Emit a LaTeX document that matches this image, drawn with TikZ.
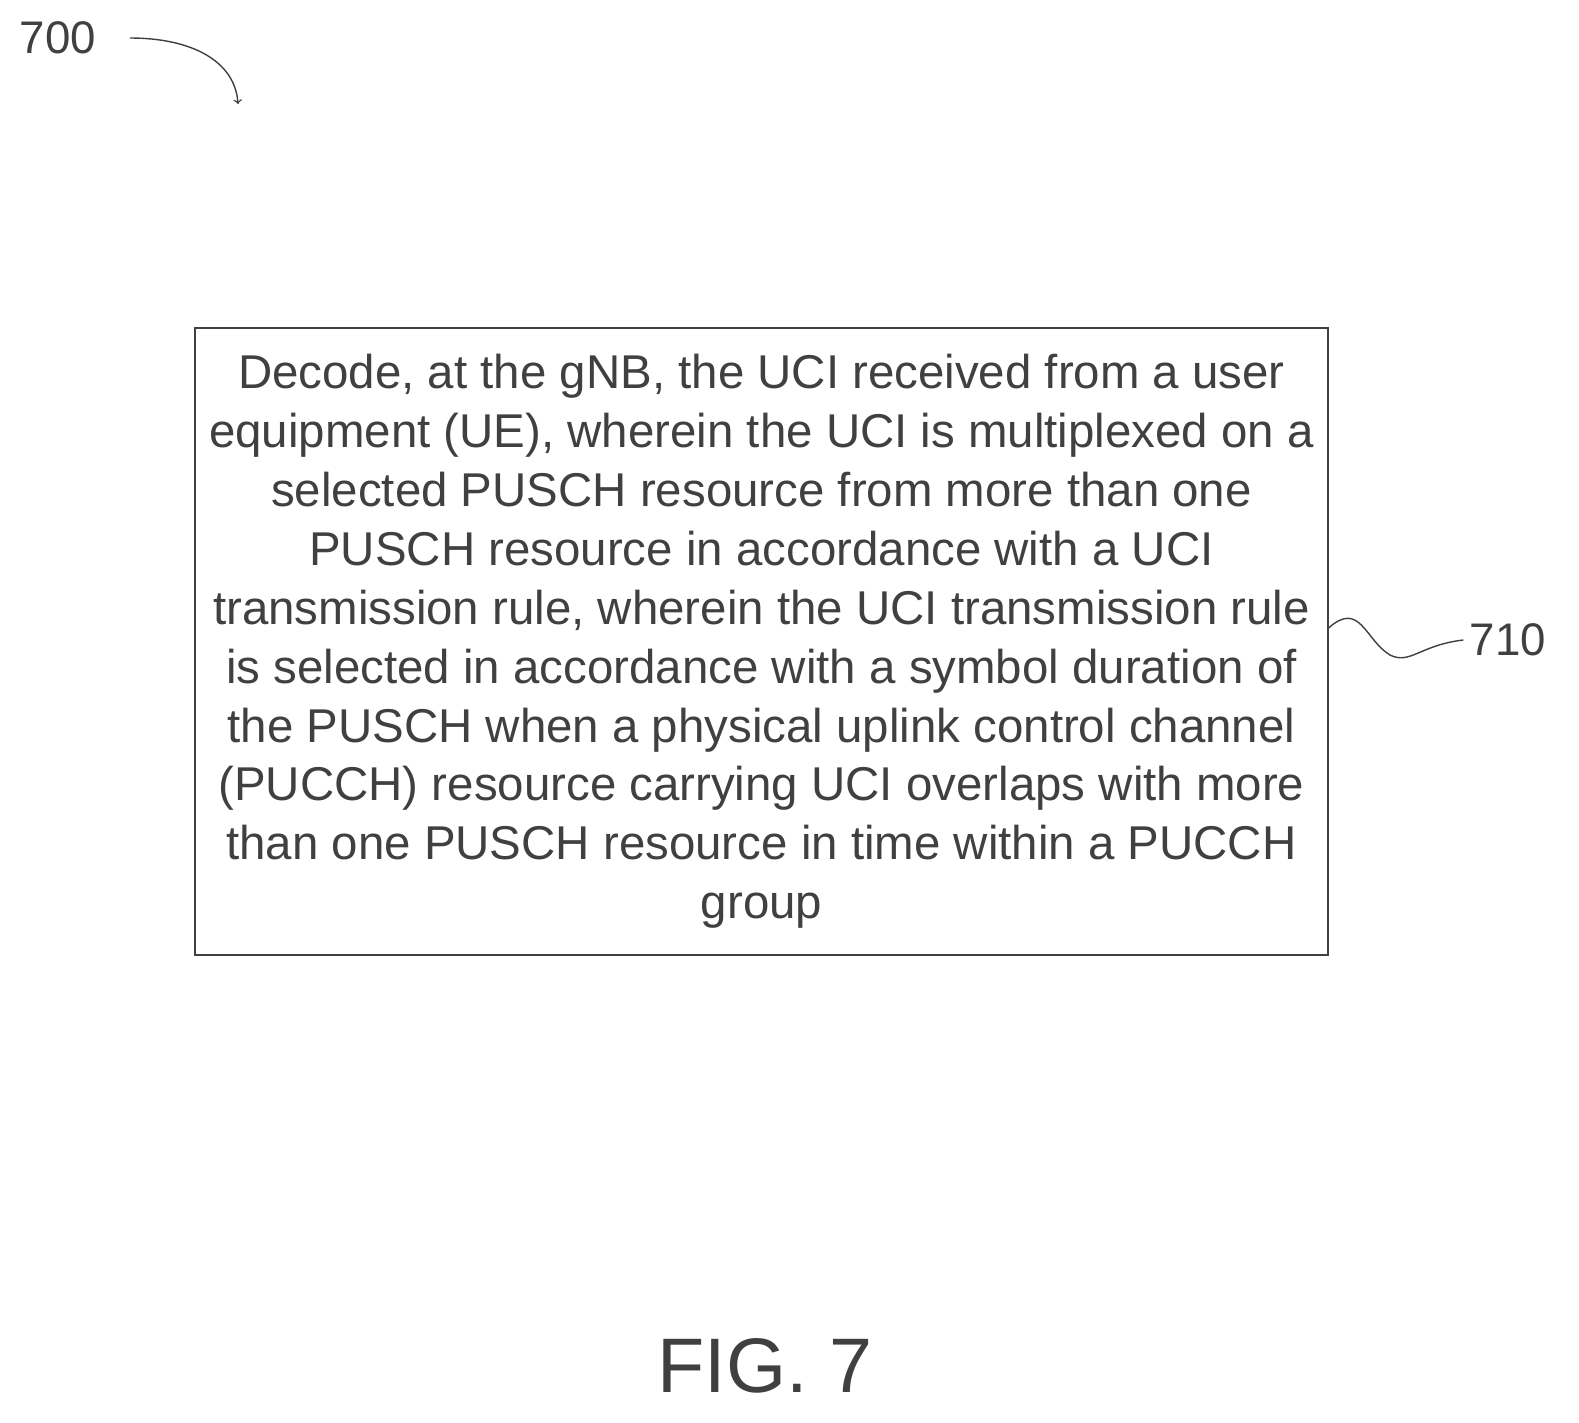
\documentclass[tikz,border=0pt]{standalone}
\usepackage{fontspec}
\setmainfont{Liberation Sans}
\usetikzlibrary{positioning}
\begin{document}
\begin{tikzpicture}[x=0.02cm, y=-0.02cm, thick, color=black!75,
    step box/.style = {draw, rectangle, minimum width=22.66cm, minimum height=12.54cm, align=center, font=\fontsize{27}{33.5}\selectfont},
    ref label/.style = {font=\fontsize{26}{30}\selectfont}]
		\useasboundingbox (0,0) rectangle (1579,1423);
		\node[step box] (S710) at (761.5,641.5) {Decode, at the gNB, the UCI received from a user\\ equipment (UE), wherein the UCI is multiplexed on a\\ selected PUSCH resource from more than one\\ PUSCH resource in accordance with a UCI\\ transmission rule, wherein the UCI transmission rule\\ is selected in accordance with a symbol duration of\\ the PUSCH when a physical uplink control channel\\ (PUCCH) resource carrying UCI overlaps with more\\ than one PUSCH resource in time within a PUCCH\\ group};
		\node[ref label] (L700) at (58,38) {700};
		\node[ref label] (L710) at (1508,640) {710};
		\node[font=\fontsize{44}{50}\selectfont] (fig) at (765,1366) {FIG. 7};
		
		\coordinate (a700) at (130,38);
		\coordinate (b700) at (238,104);
		\draw[->] (a700) .. controls (190,38) and (235,60) .. (b700);
		\draw (S710.east |- 0,628) .. controls (1360,600) and (1365,640) .. (1390,655) .. controls (1410,665) and (1420,645) .. (L710.west);
	\end{tikzpicture}
\end{document}
